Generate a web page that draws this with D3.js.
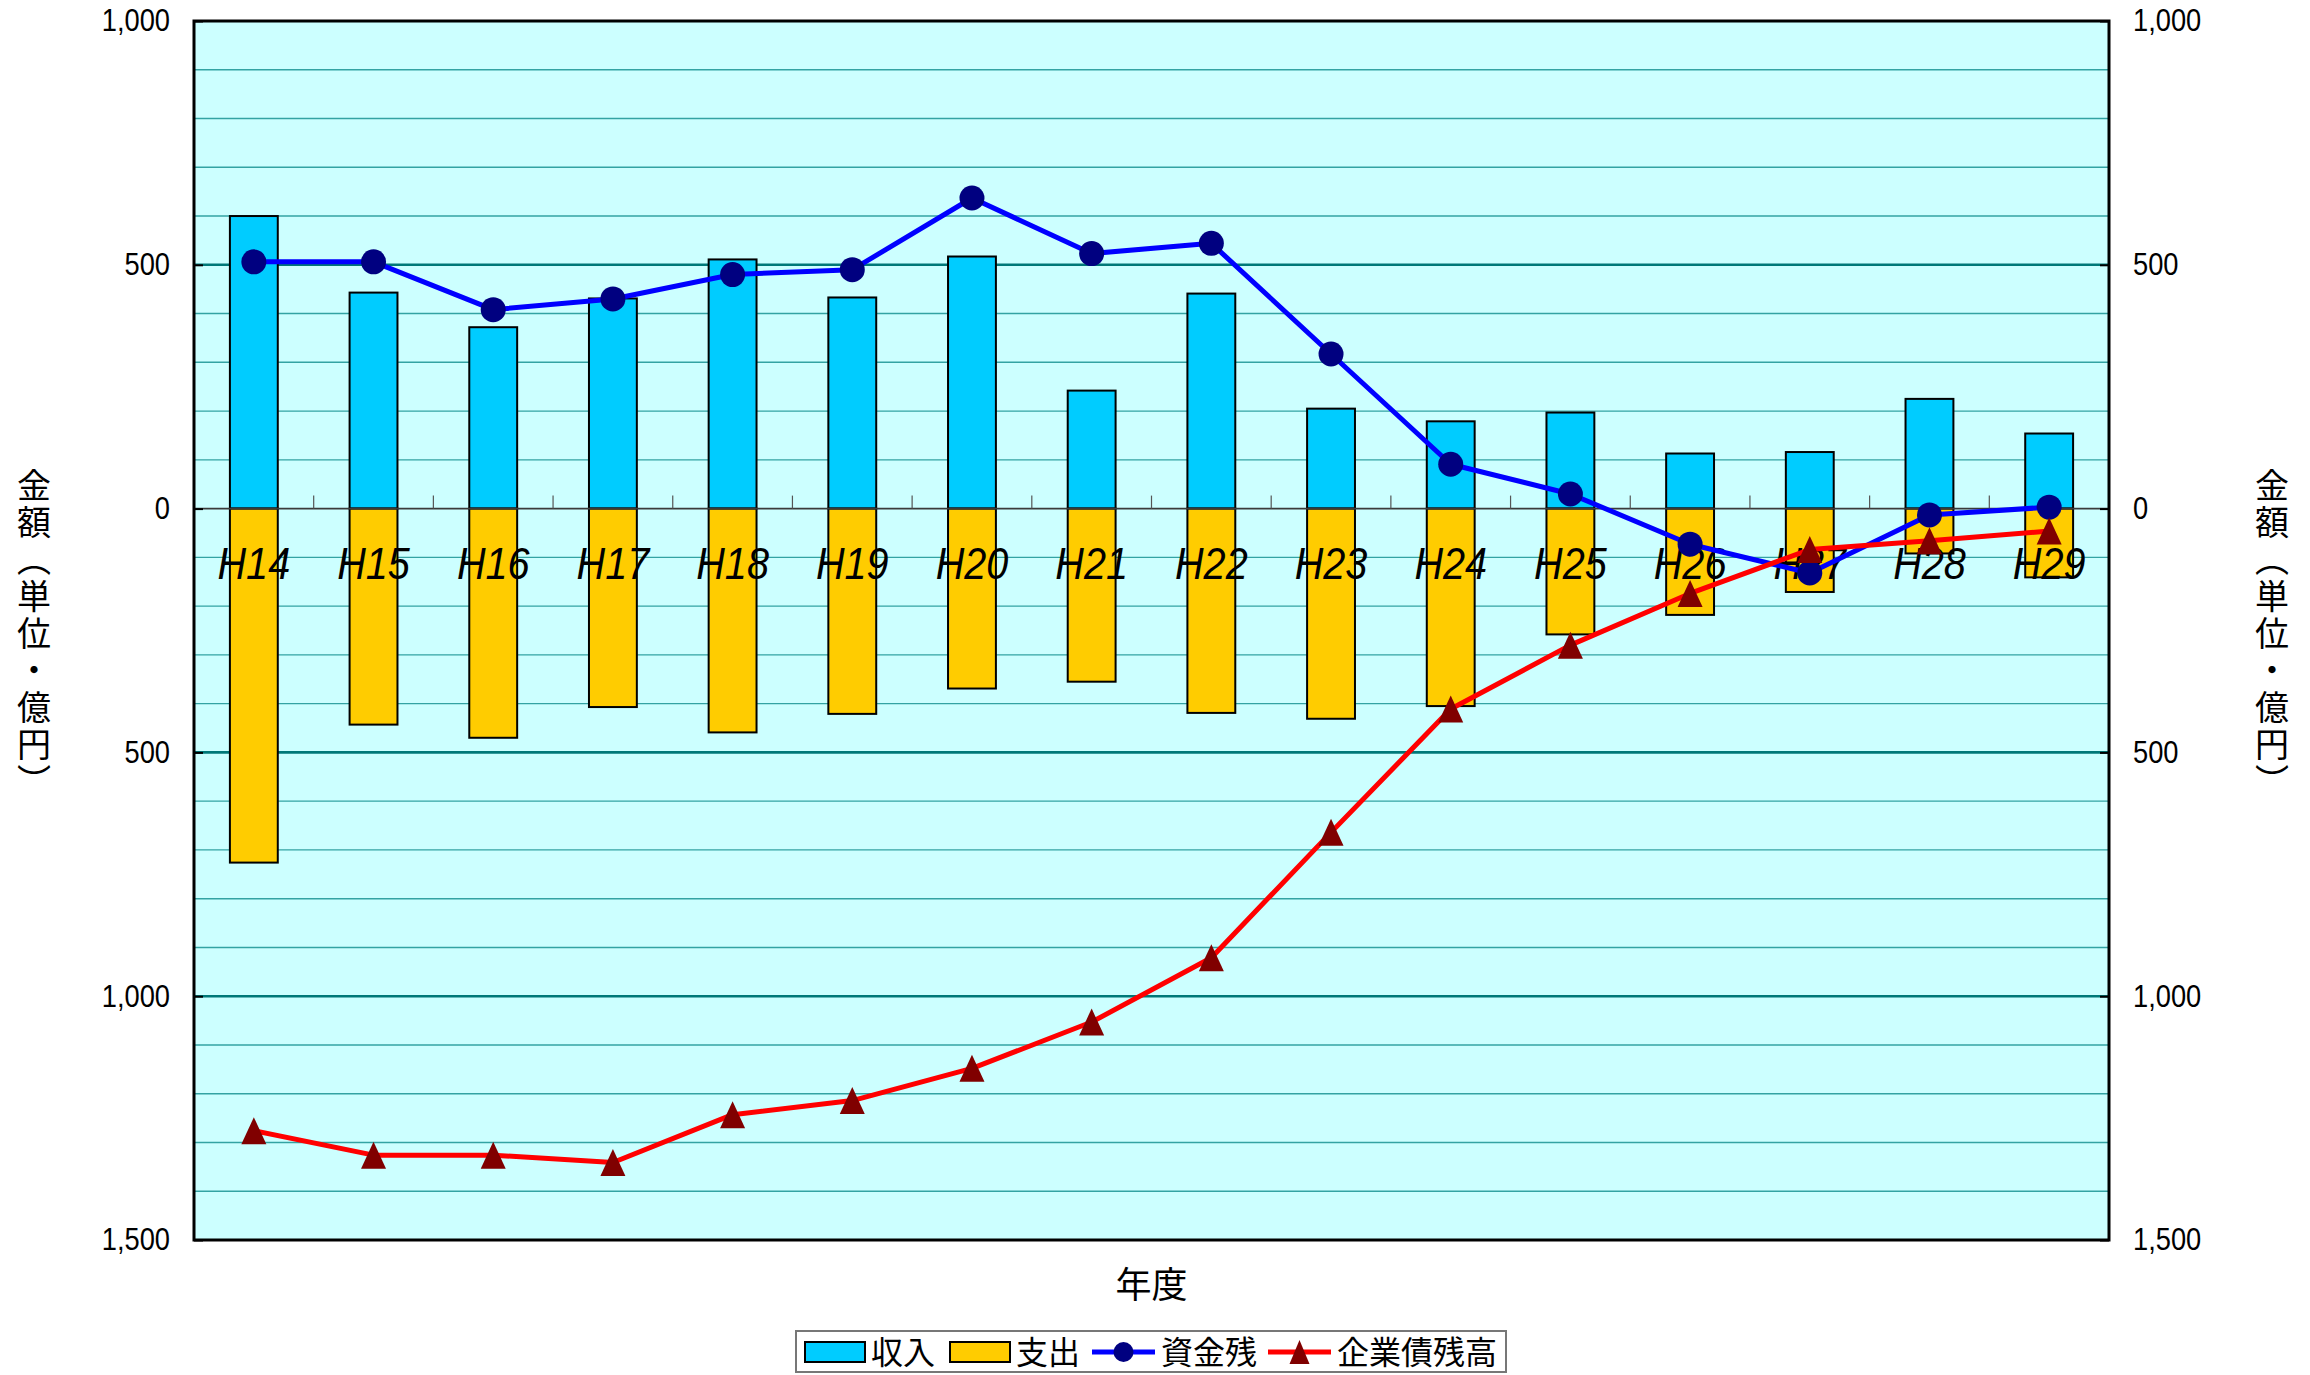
<!DOCTYPE html>
<html>
<head>
<meta charset="utf-8">
<script src="https://cdn.jsdelivr.net/npm/d3@7"></script>
<style>
  body { margin: 0; background: #fff; }
  text { font-family: "Liberation Sans", Arial, sans-serif; }
  .jp { font-family: "Noto Sans CJK JP", sans-serif; }
</style>
</head>
<body>
<div id="chart"></div>
<script>
// fiscal years
const years = ["H14", "H15", "H16", "H17", "H18", "H19", "H20", "H21",
               "H22", "H23", "H24", "H25", "H26", "H27", "H28", "H29"];
// 収入 (plotted upward)
const income = [600, 443, 372, 431, 511, 433, 517, 242, 441, 205, 179, 197, 113, 116, 225, 154];
// 支出 (plotted downward)
const expense = [726, 443, 470, 407, 459, 421, 369, 355, 419, 431, 405, 258, 218, 171, 92, 141];
// 資金残
const fundBalance = [506, 506, 408, 430, 480, 490, 637, 523, 544, 317, 91, 30, -73, -132, -13, 3];
// 企業債残高 (plotted downward)
const bondBalance = [1276, 1326, 1326, 1341, 1243, 1214, 1148, 1053, 921, 664, 411, 280, 174, 84, 66, 46];
// value axis ticks (shown without sign)
const yTicks = [-1500, -1000, -500, 0, 500, 1000];

const W = 2310, H = 1375;
const plot = { left: 194, right: 2109, top: 21, bottom: 1240 };

const svg = d3.select('#chart')
  .append('svg')
  .attr('width', W)
  .attr('height', H)
  .style('background-color', '#fff');

const x = d3.scaleBand().domain(years).range([plot.left, plot.right]);
const y = d3.scaleLinear().domain([-1500, 1000]).range([plot.bottom, plot.top]);
const cx = (d) => x(d) + x.bandwidth() / 2;
const barW = x.bandwidth() * 0.4;

// plot background
svg.append('rect')
  .attr('x', plot.left).attr('y', plot.top)
  .attr('width', plot.right - plot.left).attr('height', plot.bottom - plot.top)
  .attr('fill', '#ccffff');

// gridlines: minor every 100, major every 500
const minor = d3.range(-1400, 1000, 100).filter((v) => v % 500 !== 0);
const major = [-1000, -500, 500];
svg.append('g').selectAll('line')
  .data(minor).enter().append('line')
  .attr('x1', plot.left).attr('x2', plot.right)
  .attr('y1', (d) => y(d)).attr('y2', (d) => y(d))
  .attr('stroke', '#33a3a3').attr('stroke-width', 1.4);
svg.append('g').selectAll('line')
  .data(major).enter().append('line')
  .attr('x1', plot.left).attr('x2', plot.right)
  .attr('y1', (d) => y(d)).attr('y2', (d) => y(d))
  .attr('stroke', '#007878').attr('stroke-width', 2.6);

// bars
svg.append('g').selectAll('rect')
  .data(years).enter().append('rect')
  .attr('x', (d) => cx(d) - barW / 2)
  .attr('width', barW)
  .attr('y', (d, i) => y(income[i]))
  .attr('height', (d, i) => y(0) - y(income[i]))
  .attr('fill', '#00ccff').attr('stroke', '#000').attr('stroke-width', 2);
svg.append('g').selectAll('rect')
  .data(years).enter().append('rect')
  .attr('x', (d) => cx(d) - barW / 2)
  .attr('width', barW)
  .attr('y', y(0))
  .attr('height', (d, i) => y(-expense[i]) - y(0))
  .attr('fill', '#ffcc00').attr('stroke', '#000').attr('stroke-width', 2);

// category axis on zero line, ticks between categories pointing up
svg.append('line')
  .attr('x1', plot.left).attr('x2', plot.right)
  .attr('y1', y(0)).attr('y2', y(0))
  .attr('stroke', '#3a3a3a').attr('stroke-width', 1.8);
svg.append('g').selectAll('line')
  .data(years.slice(1)).enter().append('line')
  .attr('x1', (d) => x(d)).attr('x2', (d) => x(d))
  .attr('y1', y(0)).attr('y2', y(0) - 13)
  .attr('stroke', '#555').attr('stroke-width', 1.2);

// category labels
svg.append('g').selectAll('text')
  .data(years).enter().append('text')
  .attr('transform', (d) => `translate(${cx(d)},${y(0) + 70}) scale(0.88,1)`)
  .attr('text-anchor', 'middle')
  .style('font-size', '45px')
  .style('font-style', 'italic')
  .attr('fill', '#000')
  .text((d) => d);

// lines
const line = d3.line().x((d, i) => cx(years[i])).y((d) => y(d));
svg.append('path')
  .datum(fundBalance)
  .attr('d', line)
  .attr('fill', 'none').attr('stroke', '#0000ff').attr('stroke-width', 5)
  .attr('stroke-linejoin', 'round');
svg.append('g').selectAll('circle')
  .data(fundBalance).enter().append('circle')
  .attr('cx', (d, i) => cx(years[i])).attr('cy', (d) => y(d))
  .attr('r', 12.5).attr('fill', '#000080');

svg.append('path')
  .datum(bondBalance.map((v) => -v))
  .attr('d', line)
  .attr('fill', 'none').attr('stroke', '#ff0000').attr('stroke-width', 5)
  .attr('stroke-linejoin', 'round');
svg.append('g').selectAll('path')
  .data(bondBalance).enter().append('path')
  .attr('transform', (d, i) => `translate(${cx(years[i])},${y(-d)})`)
  .attr('d', 'M0,-13.5L12.5,13.5L-12.5,13.5Z')
  .attr('fill', '#800000');

// plot border
svg.append('rect')
  .attr('x', plot.left).attr('y', plot.top)
  .attr('width', plot.right - plot.left).attr('height', plot.bottom - plot.top)
  .attr('fill', 'none').attr('stroke', '#000').attr('stroke-width', 3);

// value axes on both sides (negative values shown as positive)
const fmt = (d) => d3.format(',')(Math.abs(d));
const leftAxis = svg.append('g')
  .attr('transform', `translate(${plot.left},0)`)
  .call(d3.axisLeft(y).tickValues(yTicks).tickSize(-9).tickFormat(fmt));
const rightAxis = svg.append('g')
  .attr('transform', `translate(${plot.right},0)`)
  .call(d3.axisRight(y).tickValues(yTicks).tickSize(-9).tickFormat(fmt));
[leftAxis, rightAxis].forEach((g) => {
  g.select('.domain').remove();
  g.selectAll('line').attr('stroke', '#000').attr('stroke-width', 2);
  g.selectAll('text')
    .style('font-size', '31px')
    .attr('fill', '#000')
    .attr('font-family', '"Liberation Sans", Arial, sans-serif');
});
leftAxis.selectAll('text').attr('x', null)
  .attr('transform', 'translate(-24,0) scale(0.88,1)');
rightAxis.selectAll('text').attr('x', null)
  .attr('transform', 'translate(24,0) scale(0.88,1)');

// axis titles
const midY = (plot.top + plot.bottom) / 2;
[34, 2272].forEach((tx) => {
  svg.append('text')
    .attr('class', 'jp')
    .attr('x', tx).attr('y', midY + 4)
    .attr('text-anchor', 'middle')
    .style('writing-mode', 'vertical-rl')
    .style('font-size', '34px')
    .style('letter-spacing', '3px')
    .text('金額（単位・億円）');
});
svg.append('text')
  .attr('class', 'jp')
  .attr('x', (plot.left + plot.right) / 2).attr('y', 1298)
  .attr('text-anchor', 'middle')
  .style('font-size', '36px')
  .text('年度');

// legend
const legend = svg.append('g');
legend.append('rect')
  .attr('x', 796).attr('y', 1331).attr('width', 710).attr('height', 41)
  .attr('fill', '#fff').attr('stroke', '#777').attr('stroke-width', 2);
const legendItems = [
  { label: '収入', type: 'bar', color: '#00ccff', x: 805 },
  { label: '支出', type: 'bar', color: '#ffcc00', x: 950 },
  { label: '資金残', type: 'circle', color: '#0000ff', mark: '#000080', x: 1092 },
  { label: '企業債残高', type: 'tri', color: '#ff0000', mark: '#800000', x: 1268 }
];
legendItems.forEach((it) => {
  const g = legend.append('g').attr('transform', `translate(${it.x},1352)`);
  if (it.type === 'bar') {
    g.append('rect').attr('x', 0).attr('y', -10).attr('width', 60).attr('height', 20)
      .attr('fill', it.color).attr('stroke', '#000').attr('stroke-width', 2);
  } else {
    g.append('line').attr('x1', 0).attr('x2', 63).attr('y1', 0).attr('y2', 0)
      .attr('stroke', it.color).attr('stroke-width', 5);
    if (it.type === 'circle') {
      g.append('circle').attr('cx', 31.5).attr('cy', 0).attr('r', 10).attr('fill', it.mark);
    } else {
      g.append('path').attr('transform', 'translate(31.5,0)')
        .attr('d', 'M0,-12L10,12L-10,12Z').attr('fill', it.mark);
    }
  }
  g.append('text')
    .attr('class', 'jp')
    .attr('x', it.type === 'bar' ? 66 : 69).attr('y', 12)
    .style('font-size', '32px')
    .text(it.label);
});
</script>
</body>
</html>
